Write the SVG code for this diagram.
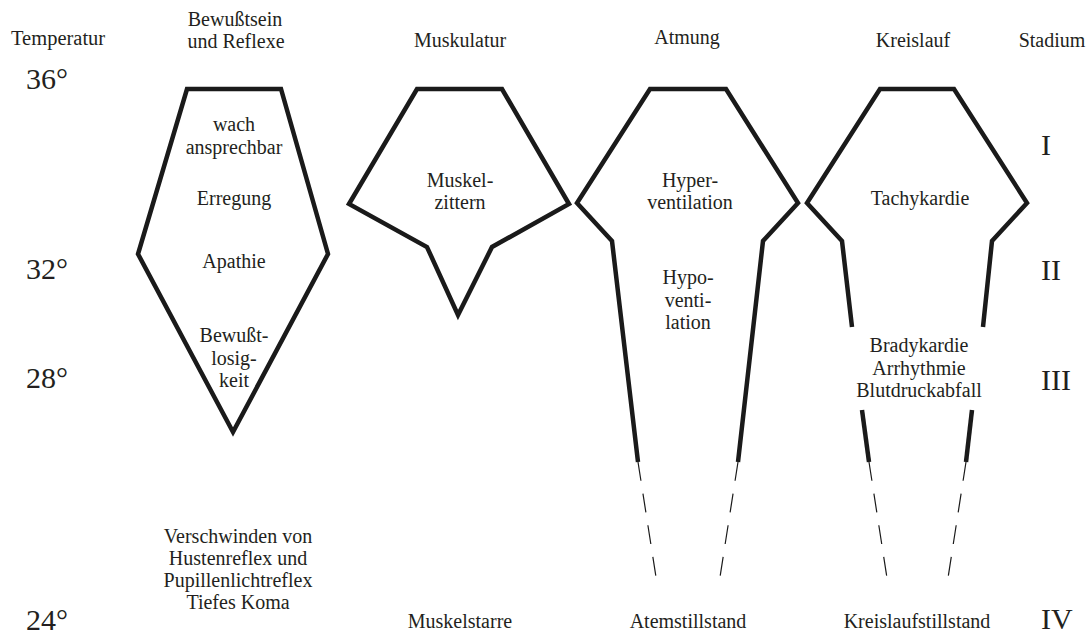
<svg xmlns="http://www.w3.org/2000/svg" width="1090" height="635" viewBox="0 0 1090 635">
<style>
text{font-family:"Liberation Serif","Times New Roman",serif;fill:#231f20;}
.h{font-size:20.5px;}
.b{font-size:20px;text-anchor:middle;}
.t{font-size:30px;}
.s{fill:none;stroke:#1a1a1a;stroke-width:4.5;stroke-linejoin:miter;stroke-linecap:butt;}
.d{fill:none;stroke:#1a1a1a;stroke-width:1.2;stroke-dasharray:19 13;}
</style>
<rect width="1090" height="635" fill="#fff"/>
<g id="headers">
<text class="h" x="11" y="45">Temperatur</text>
<text class="b" y="26"><tspan x="235">Bewußtsein</tspan><tspan x="236" dy="22.2">und Reflexe</tspan></text>
<text class="b" x="460" y="47">Muskulatur</text>
<text class="b" x="687" y="44">Atmung</text>
<text class="b" x="913" y="47">Kreislauf</text>
<text class="b" x="1052" y="47">Stadium</text>
</g>
<g id="temperatures">
<text class="t" x="26" y="89">36°</text>
<text class="t" x="26" y="279">32°</text>
<text class="t" x="26" y="388">28°</text>
<text class="t" x="26" y="630">24°</text>
</g>
<g id="stages">
<text class="t" x="1041" y="155">I</text>
<text class="t" x="1041" y="280">II</text>
<text class="t" x="1041" y="390">III</text>
<text class="t" x="1041" y="629">IV</text>
</g>
<g id="bewusstsein">
<polygon class="s" points="187,89 281,89 328,254 233,432 138,254"/>
<text class="b" y="131.4"><tspan x="234">wach</tspan><tspan x="234" dy="22.2">ansprechbar</tspan></text>
<text class="b" x="234" y="205">Erregung</text>
<text class="b" x="234" y="268">Apathie</text>
<text class="b" y="342.3"><tspan x="234">Bewußt-</tspan><tspan x="234" dy="22.2">losig-</tspan><tspan x="234" dy="22.2">keit</tspan></text>
<text class="b" y="542.7"><tspan x="238">Verschwinden von</tspan><tspan x="238" dy="22.2">Hustenreflex und</tspan><tspan x="238" dy="22.2">Pupillenlichtreflex</tspan><tspan x="238" dy="22.2">Tiefes Koma</tspan></text>
</g>
<g id="muskulatur">
<polygon class="s" points="417,89 502,89 569,204 492,247 458,315 427,247 349,204"/>
<text class="b" y="186.9"><tspan x="460">Muskel-</tspan><tspan x="460" dy="22.2">zittern</tspan></text>
<text class="b" x="460" y="628">Muskelstarre</text>
</g>
<g id="atmung">
<polyline class="s" points="638,462 612,241 577,203 650,89 726,89 798,203 763,241 738,462"/>
<line class="d" x1="638" y1="462" x2="656" y2="577"/>
<line class="d" x1="738" y1="462" x2="720" y2="577"/>
<text class="b" y="186.9"><tspan x="690">Hyper-</tspan><tspan x="690" dy="22.2">ventilation</tspan></text>
<text class="b" y="284.3"><tspan x="688">Hypo-</tspan><tspan x="688" dy="22.2">venti-</tspan><tspan x="688" dy="22.2">lation</tspan></text>
<text class="b" x="688" y="628">Atemstillstand</text>
</g>
<g id="kreislauf">
<polyline class="s" points="852,327 842,241 807,203 880,89 954,89 1027,203 992,241 983,327"/>
<line class="s" x1="862" y1="410" x2="869" y2="462"/>
<line class="s" x1="972" y1="410" x2="966" y2="462"/>
<line class="d" x1="869" y1="462" x2="887" y2="578"/>
<line class="d" x1="966" y1="462" x2="948" y2="578"/>
<text class="b" x="920" y="205">Tachykardie</text>
<text class="b" y="352.3"><tspan x="919">Bradykardie</tspan><tspan x="919" dy="22.2">Arrhythmie</tspan><tspan x="919" dy="22.2">Blutdruckabfall</tspan></text>
<text class="b" x="917" y="628">Kreislaufstillstand</text>
</g>
</svg>
